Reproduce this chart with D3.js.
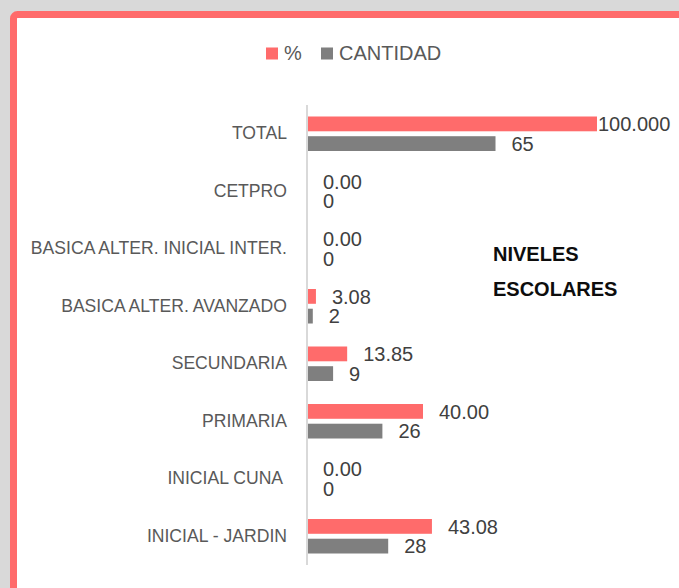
<!DOCTYPE html>
<html>
<head>
<meta charset="utf-8">
<script src="https://cdn.jsdelivr.net/npm/d3@7"></script>
<style>
  body { margin: 0; background: #d9d9d9; }
  svg { display: block; }
  text { font-family: "Liberation Sans", Arial, sans-serif; }
</style>
</head>
<body>
<div id="chart"></div>
<script>
// Datos del gráfico (de arriba hacia abajo)
const categorias = ["TOTAL", "CETPRO", "BASICA ALTER. INICIAL INTER.", "BASICA ALTER. AVANZADO",
    "SECUNDARIA", "PRIMARIA", "INICIAL CUNA ", "INICIAL - JARDIN"];
const porcentaje = [100, 0, 0, 3.08, 13.85, 40, 0, 43.08];
const cantidad = [65, 0, 0, 2, 9, 26, 0, 28];
const series = ["%", "CANTIDAD"];
const colores = ["#ff6b6b", "#7f7f7f"];

const width = 679;
const height = 588;

const svg = d3.select("#chart").append("svg")
    .attr("width", width)
    .attr("height", height);

// Marco rojo del gráfico (recortado a la derecha y abajo)
svg.append("rect")
    .attr("x", 13.5).attr("y", 14.5)
    .attr("width", 720).attr("height", 620)
    .attr("rx", 4)
    .attr("fill", "#fff")
    .attr("stroke", "#ff6b6b")
    .attr("stroke-width", 7);

// Escalas
const x0 = 307;
const x = d3.scaleLinear().domain([0, 100]).range([x0, 597]);

const y = d3.scaleBand()
    .domain(categorias)
    .range([105, 565])
    .paddingInner(0.4)
    .paddingOuter(0.2);

const ySerie = d3.scaleBand()
    .domain(series)
    .range([0, y.bandwidth()])
    .paddingInner(0.25);

// Eje vertical con las categorías
const eje = svg.append("g")
    .attr("transform", `translate(${x0},0)`)
    .call(d3.axisLeft(y).tickSize(0).tickSizeOuter(0).tickPadding(20));

eje.select(".domain")
    .attr("stroke", "#d9d9d9")
    .attr("stroke-width", 2)
    .attr("d", `M0,105V565`);

eje.selectAll(".tick text")
    .attr("font-size", 17.6)
    .attr("fill", "#595959")
    .style("white-space", "pre")
    .style("font-family", '"Liberation Sans", Arial, sans-serif');

// Filas de datos
const filas = categorias.map((c, i) => ({ cat: c, valores: [porcentaje[i], cantidad[i]] }));

const grupos = svg.selectAll(".fila")
    .data(filas)
    .enter()
    .append("g")
    .attr("class", "fila")
    .attr("transform", d => `translate(0,${y(d.cat)})`);

// Barras
grupos.selectAll("rect")
    .data(d => d.valores.map((v, j) => ({ serie: series[j], v: v, j: j })))
    .enter()
    .append("rect")
    .attr("x", x0 + 1)
    .attr("y", d => ySerie(d.serie))
    .attr("width", d => Math.max(0, x(d.v) - x0 - 1))
    .attr("height", ySerie.bandwidth())
    .attr("fill", d => colores[d.j]);

// Etiquetas de valores
const formato = (v, j) => j === 1 ? d3.format("d")(v) : (v === 100 ? v.toFixed(3) : v.toFixed(2));

grupos.selectAll(".valor")
    .data(d => d.valores.map((v, j) => ({ serie: series[j], v: v, j: j })))
    .enter()
    .append("text")
    .attr("class", "valor")
    .attr("y", d => ySerie(d.serie) + ySerie.bandwidth() / 2)
    .attr("dy", "0.36em")
    .attr("font-size", 20)
    .attr("fill", "#404040")
    .text(d => formato(d.v, d.j))
    .each(function (d) {
        const w = this.getComputedTextLength();
        const px = Math.min(x(d.v) + 16, 670 - w);
        d3.select(this).attr("x", Math.max(px, x(d.v) + 1));
    });

// Leyenda
const leyenda = svg.append("g");
const posLeyenda = [266, 321];
series.forEach((s, j) => {
    leyenda.append("rect")
        .attr("x", posLeyenda[j]).attr("y", 47.5)
        .attr("width", 12).attr("height", 12)
        .attr("fill", colores[j]);
    leyenda.append("text")
        .attr("x", posLeyenda[j] + 18).attr("y", 60)
        .attr("font-size", 20)
        .attr("fill", "#595959")
        .text(s);
});

// Título lateral
svg.append("text")
    .attr("x", 493).attr("y", 261)
    .attr("font-size", 20).attr("font-weight", "bold")
    .attr("fill", "#0d0d0d")
    .text("NIVELES");
svg.append("text")
    .attr("x", 493).attr("y", 296)
    .attr("font-size", 20).attr("font-weight", "bold")
    .attr("fill", "#0d0d0d")
    .text("ESCOLARES");
</script>
</body>
</html>
